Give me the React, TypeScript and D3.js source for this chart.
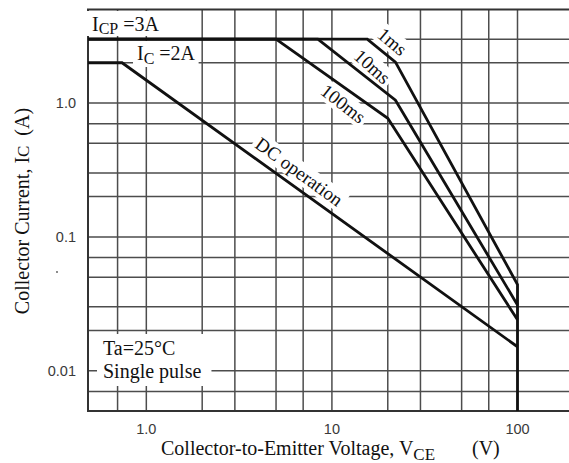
import React, { useEffect, useRef } from "react";
import * as d3 from "d3";

const W = 569;
const H = 463;

// grid values
const gridVce = [0.7, 1, 2, 3, 5, 7, 10, 20, 30, 50, 70, 100];
const gridIc = [0.007, 0.01, 0.02, 0.03, 0.05, 0.07, 0.1, 0.2, 0.3, 0.5, 0.7, 1, 2, 3];
const xTickValues = [1, 10, 100];
const xTickLabels = ["1.0", "10", "100"];
const yTickValues = [1, 0.1, 0.01];
const yTickLabels = ["1.0", "0.1", "0.01"];

const vceMin = 0.485;
const vceMax = 100;
const icMin = 0.005;
const icMax = 5;

// curves
const pulse1msVce = [0.485, 15.5, 22, 100, 100];
const pulse1msIc = [3, 3, 2.02, 0.044, 0.005];
const pulse10msVce = [0.485, 8.4, 22, 100];
const pulse10msIc = [3, 3, 1.05, 0.031];
const pulse100msVce = [0.485, 5, 20, 100];
const pulse100msIc = [3, 3, 0.77, 0.024];
const dcVce = [0.485, 0.74, 100];
const dcIc = [2, 2, 0.0151];

const SERIF = "'Liberation Serif', 'Times New Roman', serif";
const SANS = "'Liberation Sans', Arial, sans-serif";

export default function App() {
  const ref = useRef<SVGSVGElement>(null);

  useEffect(() => {
    const svg = d3.select(ref.current);
    svg.selectAll("*").remove();

    const x = d3.scaleLog().domain([vceMin, vceMax]).range([88, 517.5]);
    const y = d3.scaleLog().domain([icMin, icMax]).range([411, 9.5]);
    const left = x(vceMin);
    const right = W;
    const top = y(icMax);
    const bottom = y(icMin);

    svg.append("rect").attr("width", W).attr("height", H).attr("fill", "#fff");

    // grid
    const grid = svg.append("g").attr("stroke", "#4d4d4d").attr("stroke-width", 1.5);
    gridVce.forEach((v) =>
      grid.append("line").attr("x1", x(v)).attr("x2", x(v)).attr("y1", top).attr("y2", bottom)
    );
    gridIc.forEach((v) =>
      grid.append("line").attr("x1", left).attr("x2", right).attr("y1", y(v)).attr("y2", y(v))
    );
    svg
      .append("path")
      .attr("d", `M${right},${top}H${left}V${bottom}H${right}`)
      .attr("fill", "none")
      .attr("stroke", "#333")
      .attr("stroke-width", 2);

    // tick labels
    const tl = svg.append("g").attr("font-family", SANS).attr("font-size", 14.5).attr("fill", "#3a3a3a");
    xTickValues.forEach((v, i) =>
      tl.append("text").attr("x", x(v)).attr("y", 434).attr("text-anchor", "middle").text(xTickLabels[i])
    );
    yTickValues.forEach((v, i) =>
      tl.append("text").attr("x", 76).attr("y", y(v) + 5).attr("text-anchor", "end").text(yTickLabels[i])
    );
    svg.append("circle").attr("cx", 57).attr("cy", 272).attr("r", 0.9).attr("fill", "#555");

    const labels = svg.append("g").attr("font-family", SERIF).attr("fill", "#111");

    const boxed = (
      g: d3.Selection<SVGGElement, unknown, null, undefined>,
      build: (t: d3.Selection<SVGTextElement, unknown, null, undefined>) => void,
      pad: [number, number, number, number]
    ) => {
      const t = g.append("text");
      build(t);
      const bb = (t.node() as SVGTextElement).getBBox();
      g.insert("rect", "text")
        .attr("x", bb.x - pad[3])
        .attr("y", bb.y - pad[0])
        .attr("width", bb.width + pad[1] + pad[3])
        .attr("height", bb.height + pad[0] + pad[2])
        .attr("fill", "#fff");
    };

    // I_CP = 3A
    boxed(
      labels.append("g"),
      (t) => {
        t.attr("x", 92).attr("y", 31).attr("font-size", 20);
        t.append("tspan").text("I");
        t.append("tspan").attr("font-size", 16).attr("dy", 3).text("CP");
        t.append("tspan").attr("dy", -3).text(" =3A");
      },
      [2, 6, -1, 5]
    );
    // I_C = 2A
    boxed(
      labels.append("g"),
      (t) => {
        t.attr("x", 137).attr("y", 60).attr("font-size", 20);
        t.append("tspan").text("I");
        t.append("tspan").attr("font-size", 16).attr("dy", 4).text("C");
        t.append("tspan").attr("dy", -4).text(" =2A");
      },
      [1, 3, 0, 4]
    );
    // Ta / Single pulse
    {
      const g = labels.append("g");
      const t = g.append("text").attr("font-size", 20);
      t.append("tspan").attr("x", 103).attr("y", 355).text("Ta=25°C");
      t.append("tspan").attr("x", 103).attr("y", 378).text("Single pulse");
      const bb = (t.node() as SVGTextElement).getBBox();
      g.insert("rect", "text")
        .attr("x", 97)
        .attr("y", bb.y - 3)
        .attr("width", bb.x + bb.width + 10 - 97)
        .attr("height", bb.height + 6)
        .attr("fill", "#fff");
    }

    const rotLabels = [
      { text: "1ms", cx: 392, cy: 42, a: 40 },
      { text: "10ms", cx: 372, cy: 67, a: 42 },
      { text: "100ms", cx: 343, cy: 104, a: 38 },
      { text: "DC operation", cx: 299, cy: 172, a: 36 },
    ];
    rotLabels.forEach((l) => {
      const g = labels.append("g").attr("transform", `translate(${l.cx},${l.cy}) rotate(${l.a})`);
      boxed(
        g,
        (t) => {
          t.attr("x", 0).attr("y", 0).attr("dy", "0.32em").attr("text-anchor", "middle").attr("font-size", 19).text(l.text);
        },
        [0, 3, 0, 3]
      );
    });

    // curves
    const line = d3
      .line<[number, number]>()
      .x((d) => x(d[0]))
      .y((d) => y(d[1]));
    const series: [number[], number[]][] = [
      [dcVce, dcIc],
      [pulse100msVce, pulse100msIc],
      [pulse10msVce, pulse10msIc],
      [pulse1msVce, pulse1msIc],
    ];
    const cg = svg.append("g").attr("fill", "none").attr("stroke", "#111").attr("stroke-width", 2.8).attr("stroke-linejoin", "miter");
    series.forEach(([vs, is]) => {
      const pts = vs.map((v, i) => [v, is[i]] as [number, number]);
      cg.append("path").attr("d", line(pts));
    });

    // axis titles
    const xt = svg.append("text").attr("font-family", SERIF).attr("font-size", 20).attr("fill", "#111").attr("x", 161).attr("y", 455);
    xt.append("tspan").text("Collector-to-Emitter Voltage, V");
    xt.append("tspan").attr("font-size", 17).attr("dy", 5).text("CE");
    xt.append("tspan").attr("dy", -5).attr("x", 472).text("(V)");

    const yt = svg
      .append("text")
      .attr("font-family", SERIF)
      .attr("font-size", 20)
      .attr("fill", "#111")
      .attr("text-anchor", "middle")
      .attr("transform", `translate(29,211) rotate(-90)`);
    yt.append("tspan").text("Collector Current, I");
    yt.append("tspan").attr("font-size", 17).text("C");
    yt.append("tspan").attr("xml:space", "preserve").text("\u00a0\u00a0(A)");
  }, []);

  return (
    <svg
      ref={ref}
      width={W}
      height={H}
      style={{ position: "absolute", left: 0, top: 0, display: "block" }}
    />
  );
}
